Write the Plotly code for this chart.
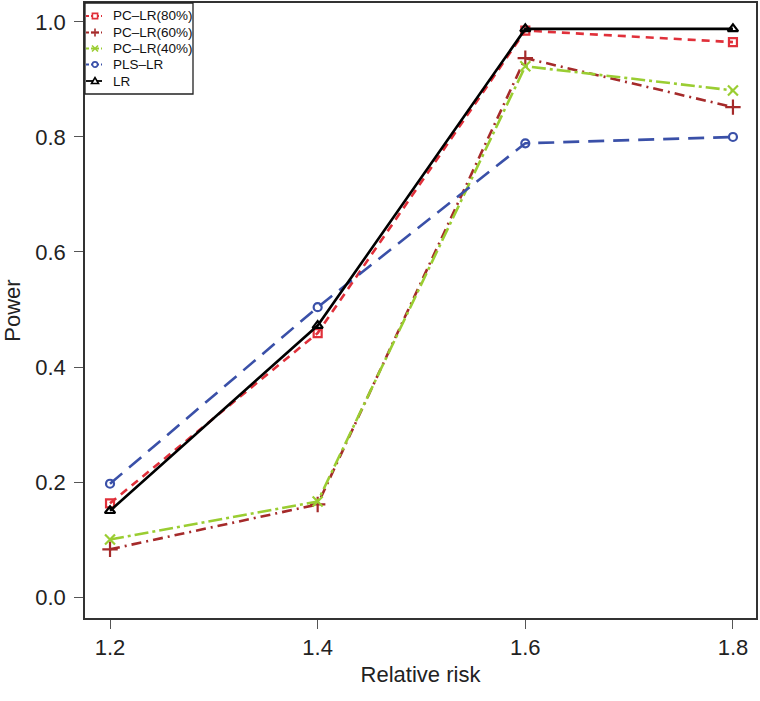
import plotly.graph_objects as go

relative_risk = [1.2, 1.4, 1.6, 1.8]
pc_lr_80 = [0.163, 0.459, 0.985, 0.965]
pc_lr_60 = [0.083, 0.161, 0.937, 0.852]
pc_lr_40 = [0.100, 0.166, 0.923, 0.881]
pls_lr = [0.197, 0.504, 0.789, 0.800]
lr = [0.150, 0.472, 0.988, 0.988]

x_ticks = [1.2, 1.4, 1.6, 1.8]
y_ticks = [0.0, 0.2, 0.4, 0.6, 0.8, 1.0]

series = [
    ("PC\u2013LR(80%)", pc_lr_80, "#E0303A", "8px,6px", "square-open", 8, "square"),
    ("PC\u2013LR(60%)", pc_lr_60, "#A52A2A", "10px,5px,2px,5px", "cross-thin-open", 11, "plus"),
    ("PC\u2013LR(40%)", pc_lr_40, "#9ACD32", "14px,4px,3px,4px", "x-thin-open", 10, "x"),
    ("PLS\u2013LR", pls_lr, "#3A50A8", "16px,9px", "circle-open", 8, "circle"),
    ("LR", lr, "#000000", "solid", "triangle-up-open", 9, "triangle"),
]

W, H = 760, 701
L, R, T, B = 85, 756, 3, 618
PW, PH = R - L, B - T


def px(x):
    return (x - L) / PW


def py(y):
    return (B - y) / PH


fig = go.Figure()
for name, vals, color, dash, sym, size, _ in series:
    fig.add_trace(go.Scatter(
        x=relative_risk, y=vals, name=name, mode="lines+markers", showlegend=False,
        line=dict(color=color, width=2.6, dash=dash),
        marker=dict(symbol=sym, size=size, color=color, line=dict(color=color, width=2.2)),
    ))

font = "Liberation Sans, Arial, sans-serif"

# manual legend (decoration only)
shapes = [dict(type="rect", xref="paper", yref="paper", x0=px(85), x1=px(193), y0=py(94), y1=py(3),
               line=dict(color="#222222", width=1.3), fillcolor="white", layer="above")]
annotations = []
item_y = [16, 32.5, 48.5, 64.5, 81]
for (name, vals, color, dash, sym, size, kind), yy in zip(series, item_y):
    shapes.append(dict(type="line", xref="paper", yref="paper", x0=px(86), x1=px(102), y0=py(yy), y1=py(yy),
                       line=dict(color=color, width=1.8, dash="solid" if dash == "solid" else "3px,2px"),
                       layer="above"))
    cx = 95
    s = 2.6
    mk = dict(xref="paper", yref="paper", layer="above", line=dict(color=color, width=1.6))
    if kind == "square":
        shapes.append(dict(type="rect", x0=px(cx - s), x1=px(cx + s), y0=py(yy + s), y1=py(yy - s),
                           fillcolor="white", **mk))
    elif kind == "plus":
        shapes.append(dict(type="line", x0=px(cx - 4), x1=px(cx + 4), y0=py(yy), y1=py(yy), **mk))
        shapes.append(dict(type="line", x0=px(cx), x1=px(cx), y0=py(yy - 4), y1=py(yy + 4), **mk))
    elif kind == "x":
        shapes.append(dict(type="line", x0=px(cx - 3), x1=px(cx + 3), y0=py(yy - 3), y1=py(yy + 3), **mk))
        shapes.append(dict(type="line", x0=px(cx - 3), x1=px(cx + 3), y0=py(yy + 3), y1=py(yy - 3), **mk))
    elif kind == "circle":
        shapes.append(dict(type="circle", x0=px(cx - s), x1=px(cx + s), y0=py(yy + s), y1=py(yy - s),
                           fillcolor="white", **mk))
    elif kind == "triangle":
        path = f"M {px(cx - 3.5)} {py(yy + 2.5)} L {px(cx + 3.5)} {py(yy + 2.5)} L {px(cx)} {py(yy - 3.5)} Z"
        shapes.append(dict(type="path", path=path, fillcolor="white", **mk))
    annotations.append(dict(xref="paper", yref="paper", x=px(111), y=py(yy), xanchor="left", yanchor="middle",
                            text=name, showarrow=False, font=dict(size=13.5, family=font, color="#111111")))

fig.update_layout(
    width=W, height=H,
    margin=dict(l=L, r=W - R, t=T, b=H - B),
    paper_bgcolor="white", plot_bgcolor="white",
    font=dict(family=font, color="#222222"),
    showlegend=False,
    shapes=shapes, annotations=annotations,
    xaxis=dict(
        range=[1.1759, 1.8222], tickvals=x_ticks, ticktext=[f"{v:.1f}" for v in x_ticks],
        showgrid=False, zeroline=False, showline=True, mirror=True,
        linecolor="#333333", linewidth=1.6,
        ticks="outside", ticklen=9, tickwidth=1.2, tickcolor="#555555",
        tickfont=dict(size=22), title=dict(text="Relative risk", font=dict(size=22), standoff=7),
        automargin=False,
    ),
    yaxis=dict(
        range=[-0.0365, 1.033], tickvals=y_ticks, ticktext=[f"{v:.1f}" for v in y_ticks],
        showgrid=False, zeroline=False, showline=True, mirror=True,
        linecolor="#333333", linewidth=1.6,
        ticks="outside", ticklen=9, tickwidth=1.2, tickcolor="#555555",
        tickfont=dict(size=22), ticklabelstandoff=4,
        title=dict(text="Power", font=dict(size=22), standoff=10),
        automargin=False,
    ),
)

fig.write_html("out.html", post_script="document.body.style.margin='0';",
               config={"displayModeBar": False})
